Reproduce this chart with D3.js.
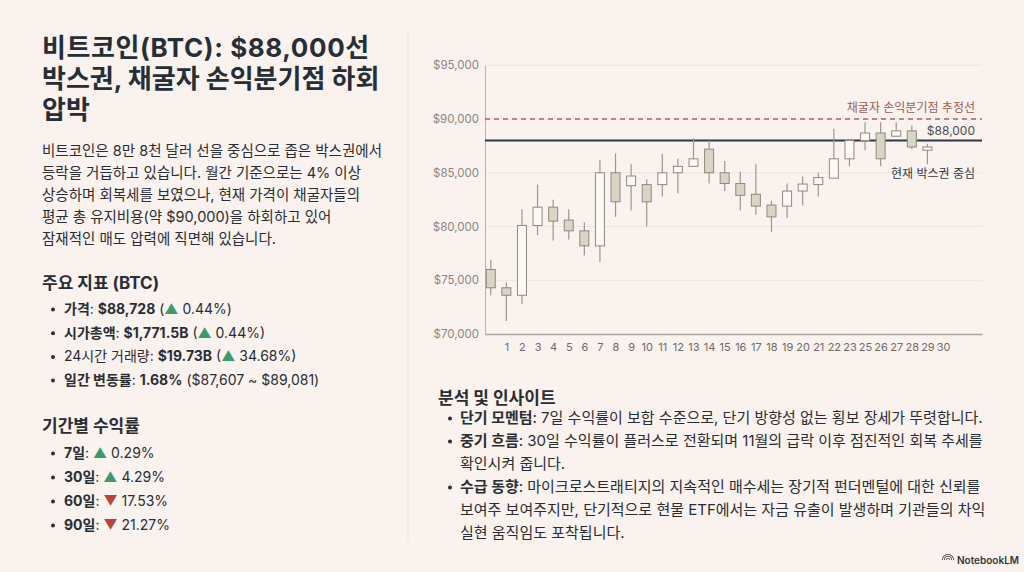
<!DOCTYPE html>
<html lang="ko">
<head>
<meta charset="utf-8">
<script src="https://cdn.jsdelivr.net/npm/d3@7"></script>
<style>
  html, body { margin: 0; padding: 0; background: #f9f2ef; }
  svg { display: block; font-family: "Inter", "Noto Sans CJK KR", sans-serif; }
</style>
</head>
<body>
<svg id="slide" width="1024" height="572"></svg>
<script>
// ---- data ----
const dayLabels = ["1","2","3","4","5","6","7","8","9","10","11","12","13","14","15",
                   "16","17","18","19","20","21","22","23","25","26","27","28","29","30"];
const opens  = [76000,74300,73600,80100,81800,80600,79600,78200,85000,83800,83900,83900,85000,85600,87200,
                85000,84000,83000,82000,81900,83300,83900,84500,86300,88000,88700,88400,88900,87100];
const highs  = [76900,74800,81600,83900,82500,81600,80400,86200,86800,85800,84400,86800,86300,88200,88000,
                86100,85100,85800,82400,84000,84650,85000,89100,88000,89700,89700,89700,89400,87700];
const lows   = [73600,71200,72800,79200,78700,78800,77300,76700,80900,81500,80000,82800,83100,85600,84000,
                83300,81500,81100,79500,80800,81950,82800,84500,85600,87100,85600,88400,87200,85800];
const closes = [74300,73600,80100,81800,80500,79600,78200,85000,82300,84700,82300,85000,85600,86300,85000,
                84000,82900,81900,80900,83300,83950,84550,86300,88000,88700,86300,88900,87400,87400];
const yTicks = [70000, 75000, 80000, 85000, 90000, 95000];
const breakEven = 90000;
const boxCenter = 88000;

const titleLines = ["비트코인(BTC): $88,000선", "박스권, 채굴자 손익분기점 하회", "압박"];
const introLines = [
  "비트코인은 8만 8천 달러 선을 중심으로 좁은 박스권에서",
  "등락을 거듭하고 있습니다. 월간 기준으로는 4% 이상",
  "상승하며 회복세를 보였으나, 현재 가격이 채굴자들의",
  "평균 총 유지비용(약 $90,000)을 하회하고 있어",
  "잠재적인 매도 압력에 직면해 있습니다."
];
// [label, labelBold, value, direction, change]
const metrics = [
  ["가격", true, "$88,728", "up", " 0.44%)"],
  ["시가총액", true, "$1,771.5B", "up", " 0.44%)"],
  ["24시간 거래량", false, "$19.73B", "up", " 34.68%)"],
  ["일간 변동률", true, "1.68%", null, " ($87,607 ~ $89,081)"]
];
const returnsLabels = ["7일", "30일", "60일", "90일"];
const returnsDirs = ["up", "up", "down", "down"];
const returnsValues = [" 0.29%", " 4.29%", " 17.53%", " 21.27%"];
const insights = [
  [["단기 모멘텀", ": 7일 수익률이 보합 수준으로, 단기 방향성 없는 횡보 장세가 뚜렷합니다."]],
  [["중기 흐름", ": 30일 수익률이 플러스로 전환되며 11월의 급락 이후 점진적인 회복 추세를"], [null, "확인시켜 줍니다."]],
  [["수급 동향", ": 마이크로스트래티지의 지속적인 매수세는 장기적 펀더멘털에 대한 신뢰를"],
   [null, "보여주 보여주지만, 단기적으로 현물 ETF에서는 자금 유출이 발생하며 기관들의 차익"],
   [null, "실현 움직임도 포착됩니다."]]
];

const svg = d3.select("#slide");
const ink = "#2a2d31";
const green = "#3d9a6b";
const red = "#b6463a";

// ---- left panel ----
svg.append("line").attr("x1", 408).attr("x2", 408).attr("y1", 32).attr("y2", 540)
   .attr("stroke", "#ebe2de").attr("stroke-width", 1);

svg.append("g").selectAll("text").data(titleLines).join("text")
   .attr("x", 42).attr("y", (d, i) => 57 + i * 31)
   .attr("font-size", 26).attr("font-weight", 700).attr("fill", "#262e36")
   .attr("letter-spacing", (d, i) => i === 0 ? 0.6 : 0)
   .text(d => d);

svg.append("g").selectAll("text").data(introLines).join("text")
   .attr("x", 42).attr("y", (d, i) => 156 + i * 22)
   .attr("font-size", 14.5).attr("fill", ink)
   .text(d => d);

function heading(x, y, txt) {
  svg.append("text").attr("x", x).attr("y", y)
     .attr("font-size", 17).attr("font-weight", 700).attr("fill", ink).text(txt);
}
function bullet(x, y) {
  svg.append("circle").attr("cx", x).attr("cy", y - 4.5).attr("r", 2).attr("fill", ink);
}
function arrow(t, dir) {
  t.append("tspan").attr("fill", dir === "up" ? green : red).text(dir === "up" ? "▲" : "▼");
}

heading(42, 289, "주요 지표 (BTC)");
metrics.forEach((m, i) => {
  const y = 314 + i * 23.7;
  bullet(53, y);
  const t = svg.append("text").attr("x", 64).attr("y", y).attr("font-size", 14).attr("fill", ink);
  t.append("tspan").attr("font-weight", m[1] ? 700 : 400).text(m[0]);
  t.append("tspan").text(": ");
  t.append("tspan").attr("font-weight", 700).text(m[2]);
  if (m[3]) {
    t.append("tspan").text(" (");
    arrow(t, m[3]);
  }
  t.append("tspan").text(m[4]);
});

heading(42, 432, "기간별 수익률");
returnsLabels.forEach((lab, i) => {
  const y = 458 + i * 24;
  bullet(53, y);
  const t = svg.append("text").attr("x", 64).attr("y", y).attr("font-size", 14).attr("fill", ink);
  t.append("tspan").attr("font-weight", 700).text(lab);
  t.append("tspan").text(": ");
  arrow(t, returnsDirs[i]);
  t.append("tspan").text(returnsValues[i]);
});

// ---- insights ----
heading(438, 404, "분석 및 인사이트");
let row = 0;
insights.forEach(item => {
  item.forEach((ln, j) => {
    const y = 423 + row * 23;
    if (j === 0) bullet(450, y);
    const t = svg.append("text").attr("x", 460).attr("y", y).attr("font-size", 15).attr("fill", ink);
    if (ln[0]) t.append("tspan").attr("font-weight", 700).text(ln[0]);
    t.append("tspan").text(ln[1]);
    row++;
  });
});

// ---- candlestick chart ----
const plot = { left: 485, right: 982, top: 65.3, bottom: 334 };
const x = d3.scaleLinear().domain([-0.37, 31.5]).range([plot.left, plot.right]);
const y = d3.scaleLinear().domain([70000, 95000]).range([plot.bottom, plot.top]);
const bodyW = 9;

const chart = svg.append("g");

chart.append("g").selectAll("line").data(yTicks.slice(1)).join("line")
  .attr("x1", plot.left).attr("x2", plot.right)
  .attr("y1", d => y(d)).attr("y2", d => y(d))
  .attr("stroke", "#ece4e0").attr("stroke-width", 1);

const yAxis = chart.append("g").attr("transform", `translate(${plot.left},0)`)
  .call(d3.axisLeft(y).tickValues(yTicks).tickFormat(d3.format("$,")).tickSize(0).tickPadding(6));
yAxis.select(".domain").attr("stroke", "#b9b3af");
yAxis.selectAll("text").attr("fill", "#8b8784").attr("font-size", 11.5).attr("font-family", "Inter, sans-serif");

const xAxis = chart.append("g").attr("transform", `translate(0,${plot.bottom})`)
  .call(d3.axisBottom(x).tickValues(d3.range(1, dayLabels.length + 1))
        .tickFormat(i => dayLabels[i - 1]).tickSize(0).tickPadding(9));
xAxis.select(".domain").attr("stroke", "#aaa4a0").attr("stroke-width", 1.5);
xAxis.selectAll("text").attr("fill", "#6f6b68").attr("font-size", 11).attr("font-family", "Inter, sans-serif");

// reference lines
chart.append("line")
  .attr("x1", plot.left).attr("x2", plot.right).attr("y1", y(breakEven)).attr("y2", y(breakEven))
  .attr("stroke", "#b0645b").attr("stroke-width", 1.5).attr("stroke-dasharray", "5,4");
chart.append("line")
  .attr("x1", plot.left).attr("x2", plot.right).attr("y1", y(boxCenter)).attr("y2", y(boxCenter))
  .attr("stroke", "#2c3a48").attr("stroke-width", 2);

const candles = chart.append("g").selectAll("g").data(opens).join("g");
candles.append("line")
  .attr("x1", (d, i) => x(i)).attr("x2", (d, i) => x(i))
  .attr("y1", (d, i) => y(highs[i])).attr("y2", (d, i) => y(lows[i]))
  .attr("stroke", "#9c978e").attr("stroke-width", 1.2);
candles.append("rect")
  .attr("x", (d, i) => x(i) - bodyW / 2).attr("width", bodyW)
  .attr("y", (d, i) => y(Math.max(opens[i], closes[i])))
  .attr("height", (d, i) => Math.max(1, Math.abs(y(opens[i]) - y(closes[i]))))
  .attr("fill", (d, i) => closes[i] < opens[i] ? "#d9d4c6" : "#fcf9f5")
  .attr("stroke", "#8e8a80").attr("stroke-width", 1);

// annotations
chart.append("text").attr("x", 975).attr("y", y(breakEven) - 7).attr("text-anchor", "end")
  .attr("font-size", 12).attr("fill", "#a35b52").text("채굴자 손익분기점 추정선");
chart.append("text").attr("x", 975).attr("y", y(boxCenter) - 6).attr("text-anchor", "end")
  .attr("font-size", 12).attr("fill", "#4a4e54").text("$" + d3.format(",")(boxCenter));
chart.append("text").attr("x", 975).attr("y", y(boxCenter) + 37).attr("text-anchor", "end")
  .attr("font-size", 12).attr("fill", "#2f3d4b").text("현재 박스권 중심");

// ---- footer mark ----
const logo = svg.append("g").attr("transform", "translate(948,560)");
[6, 4, 2].forEach(r => {
  logo.append("path").attr("d", d3.arc()({ innerRadius: r - 0.8, outerRadius: r, startAngle: -Math.PI / 2, endAngle: Math.PI / 2 }))
    .attr("fill", "#33373b");
});
svg.append("text").attr("x", 957).attr("y", 564).attr("font-size", 10).attr("font-weight", 600)
  .attr("fill", "#33373b").text("NotebookLM");
</script>
</body>
</html>
